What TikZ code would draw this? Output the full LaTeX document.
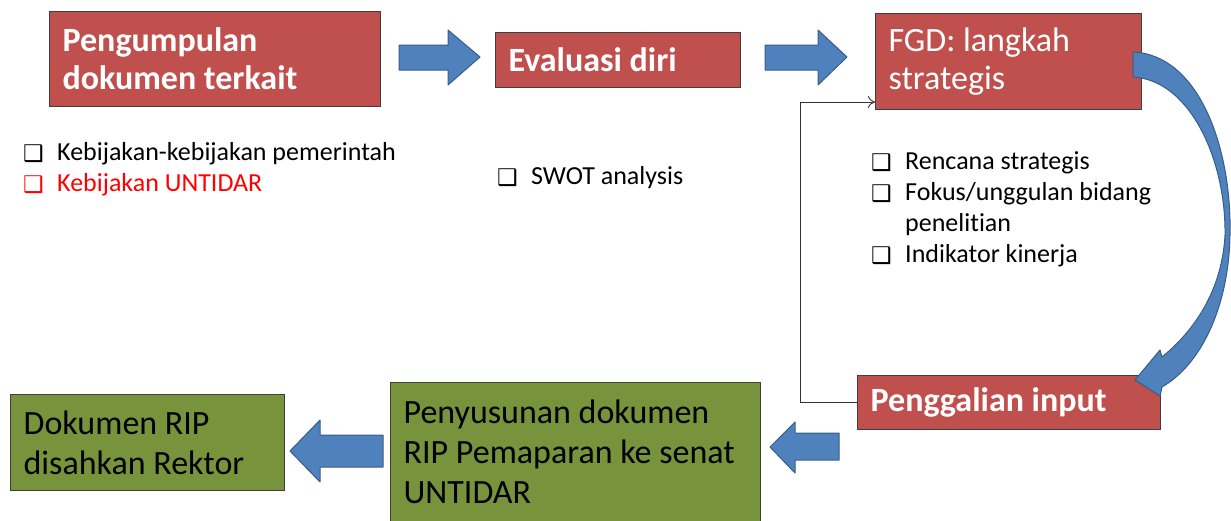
\documentclass[tikz,border=0pt]{standalone}
\usepackage{fontspec}
\setmainfont{Carlito}[Ligatures=NoCommon]
\newfontfamily\djv{DejaVu Sans}
\usetikzlibrary{arrows.meta,calc}
\definecolor{boxred}{HTML}{C0504D}
\definecolor{boxgreen}{HTML}{77933C}
\definecolor{arrblue}{HTML}{4F81BD}
\definecolor{arredge}{HTML}{385D8A}
\definecolor{edgegray}{HTML}{3F3F3F}
\newcommand{\cbx}{\makebox[34pt][l]{\raisebox{-1pt}{\djv\fontsize{23}{23}\selectfont ❑}}}
\begin{document}
\begin{tikzpicture}[x=1pt,y=-1pt,
  box/.style={draw=edgegray, line width=1.2pt, anchor=north west, inner xsep=13pt, inner ysep=0pt, align=flush left},
  redbold/.style={box, fill=boxred, text=white, font=\bfseries\fontsize{34}{38}\selectfont},
  redplain/.style={box, fill=boxred, text=white, font=\fontsize{34}{38}\selectfont},
  greenbox/.style={box, fill=boxgreen, text=black, font=\fontsize{34}{40}\selectfont},
  blk/.style={fill=arrblue, draw=arredge, line width=1pt, line join=round},
  lst/.style={anchor=base west, inner sep=0pt, font=\fontsize{26}{31}\selectfont},
  fb/.style={draw=black!80, line width=0.9pt, -{To[length=7pt,width=12pt]}}]
\useasboundingbox (0,0) rectangle (1231,520);
% boxes
\node[redbold, text width=305pt, minimum height=95pt] (pk) at (49,11) {Pengumpulan\\dokumen terkait};
\node[redbold, text width=219pt, minimum height=55pt] (ev) at (495,32) {Evaluasi diri};
\node[redplain, text width=240pt, minimum height=96pt] (fgd) at (875,13) {FGD: langkah\\strategis};
\node[redbold, text width=277pt, minimum height=54pt] (pen) at (857,375) {Penggalian input};
\node[greenbox, text width=344pt, minimum height=139pt] (pny) at (390,382) {Penyusunan dokumen\\RIP Pemaparan ke senat\\UNTIDAR};
\node[greenbox, text width=248pt, minimum height=96pt] (dok) at (10,394) {Dokumen RIP\\disahkan Rektor};
% lists
\node[lst] (l1) at (23,160) {\begin{tabular}[t]{@{}l@{}l@{}}
\cbx & Kebijakan-kebijakan pemerintah\\
\color{red}\cbx & \color{red}Kebijakan UNTIDAR
\end{tabular}};
\node[lst] (l2) at (497,184) {\begin{tabular}[t]{@{}l@{}l@{}}
\cbx & SWOT analysis
\end{tabular}};
\node[lst] (l3) at (871,169) {\begin{tabular}[t]{@{}l@{}l@{}}
\cbx & Rencana strategis\\
\cbx & Fokus/unggulan bidang\\
 & penelitian\\
\cbx & Indikator kinerja
\end{tabular}};
% block arrows
\draw[blk] (399,45)--(448,45)--(448,30)--(480,57)--(448,85)--(448,70)--(399,70)--cycle;
\draw[blk] (765,45)--(818,45)--(818,30)--(847,57)--(818,85)--(818,70)--(765,70)--cycle;
\draw[blk] (839,433)--(795,433)--(795,422)--(770,447)--(795,473)--(795,460)--(839,460)--cycle;
\draw[blk] (383,435)--(320,435)--(320,420)--(290,451)--(320,482)--(320,467)--(383,467)--cycle;
% curved arrow
\draw[blk] (1133,52) .. controls (1200,55) and (1232,150) .. (1230,235)
  .. controls (1229,300) and (1205,362) .. (1162,387)
  -- (1160,396) -- (1135,380) -- (1160,350) -- (1162,357)
  .. controls (1195,330) and (1222,290) .. (1225,235)
  .. controls (1226,160) and (1190,80) .. (1133,77) -- cycle;
% feedback line
\coordinate (fbc) at (800,102);
\draw[fb] (pen.west) -| (fbc) -- (fgd.west |- fbc);
\end{tikzpicture}
\end{document}
